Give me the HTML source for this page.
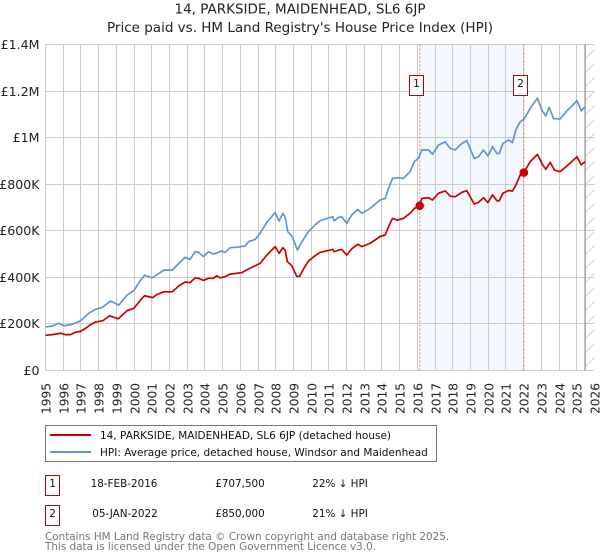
<!DOCTYPE html>
<html>
<head>
<meta charset="utf-8">
<style>
html,body{margin:0;padding:0;background:#fff;}
body{width:600px;height:560px;overflow:hidden;}
svg{display:block;font-family:"DejaVu Sans",sans-serif;}
</style>
</head>
<body>
<svg id="chart" width="600" height="560" viewBox="0 0 600 560" xmlns="http://www.w3.org/2000/svg">
<defs>
<pattern id="hatch" patternUnits="userSpaceOnUse" width="14" height="14">
<path d="M0 14 L14 0" stroke="#d4d4d4" stroke-width="1" fill="none"/>
</pattern>
</defs>
<text x="300" y="13.5" text-anchor="middle" font-size="13.5" fill="#222">14, PARKSIDE, MAIDENHEAD, SL6 6JP</text>
<text x="300" y="32" text-anchor="middle" font-size="13.5" fill="#222">Price paid vs. HM Land Registry's House Price Index (HPI)</text>
<g id="plot"></g>
<g>
<rect x="45.5" y="425.5" width="391" height="36" fill="#fff" stroke="#777" stroke-width="1"/>
<line x1="50" x2="91" y1="435" y2="435" stroke="#cc0000" stroke-width="2"/>
<text x="100" y="439" font-size="10.5" fill="#111">14, PARKSIDE, MAIDENHEAD, SL6 6JP (detached house)</text>
<line x1="50" x2="91" y1="452" y2="452" stroke="#6594d6" stroke-width="2"/>
<text x="100" y="456" font-size="10.5" fill="#111">HPI: Average price, detached house, Windsor and Maidenhead</text>
</g>
<g font-size="10.4" fill="#111">
<rect x="45.5" y="475.5" width="14" height="20" fill="#fff" stroke="#c00000" stroke-width="1"/>
<text x="52.5" y="487" text-anchor="middle">1</text>
<text x="124" y="487" text-anchor="middle">18-FEB-2016</text>
<text x="240" y="487" text-anchor="middle">£707,500</text>
<text x="340" y="487" text-anchor="middle">22% ↓ HPI</text>
<rect x="45.5" y="505.5" width="14" height="20" fill="#fff" stroke="#c00000" stroke-width="1"/>
<text x="52.5" y="517" text-anchor="middle">2</text>
<text x="125" y="517" text-anchor="middle">05-JAN-2022</text>
<text x="240" y="517" text-anchor="middle">£850,000</text>
<text x="340" y="517" text-anchor="middle">21% ↓ HPI</text>
</g>
<text x="45" y="540" font-size="10.4" fill="#777">Contains HM Land Registry data © Crown copyright and database right 2025.</text>
<text x="45" y="550" font-size="10.4" fill="#777">This data is licensed under the Open Government Licence v3.0.</text>
</svg>
<script>
var yearTicks = [1995,1996,1997,1998,1999,2000,2001,2002,2003,2004,2005,2006,2007,2008,2009,2010,2011,2012,2013,2014,2015,2016,2017,2018,2019,2020,2021,2022,2023,2024,2025,2026];
var valueTicks = [0,200,400,600,800,1000,1200,1400];
var valueTickLabels = ["£0","£200K","£400K","£600K","£800K","£1M","£1.2M","£1.4M"];
var hpiYears = [1995.00,1995.38,1995.75,1996.04,1996.51,1996.98,1997.45,1997.82,1998.20,1998.67,1999.14,1999.61,1999.99,2000.37,2000.59,2001.03,2001.40,2001.69,2002.16,2002.53,2002.88,2003.16,2003.45,2003.64,2003.92,2004.20,2004.48,2004.95,2005.14,2005.42,2005.90,2006.27,2006.46,2006.84,2007.12,2007.50,2007.97,2008.19,2008.40,2008.53,2008.68,2008.91,2009.23,2009.42,2009.85,2010.22,2010.50,2010.88,2011.22,2011.30,2011.54,2011.73,2012.01,2012.29,2012.63,2012.86,2013.33,2013.89,2014.18,2014.37,2014.59,2014.87,2015.21,2015.59,2015.82,2016.06,2016.25,2016.63,2016.85,2017.19,2017.57,2017.85,2018.13,2018.51,2018.79,2019.21,2019.45,2019.73,2019.98,2020.24,2020.49,2020.62,2020.83,2021.15,2021.37,2021.56,2021.80,2022.03,2022.37,2022.78,2023.03,2023.25,2023.44,2023.69,2024.06,2024.44,2024.72,2025.01,2025.25,2025.47];
var hpiValues = [187,191,203,192,198,214,246,263,271,298,281,324,343,388,409,398,417,431,431,460,486,477,510,508,489,510,500,513,507,527,530,535,553,563,589,637,678,642,675,660,596,578,517,546,596,625,643,653,660,642,658,660,632,668,692,675,696,732,739,782,825,828,825,854,897,911,947,947,929,968,982,954,947,975,987,911,918,947,921,961,932,932,975,990,979,1034,1068,1080,1126,1169,1118,1093,1130,1082,1080,1115,1135,1159,1115,1133];
var priceYears = [1995.00,1995.38,1995.85,1996.13,1996.41,1996.69,1996.98,1997.26,1997.54,1997.82,1998.24,1998.62,1999.11,1999.61,1999.99,2000.37,2000.59,2001.06,2001.31,2001.69,2002.16,2002.53,2002.88,2003.16,2003.45,2003.64,2003.92,2004.20,2004.48,2004.67,2004.86,2005.14,2005.42,2006.08,2006.46,2006.84,2007.12,2007.50,2007.97,2008.19,2008.40,2008.53,2008.66,2008.91,2009.19,2009.34,2009.57,2009.85,2010.22,2010.50,2010.88,2011.22,2011.30,2011.54,2011.73,2012.01,2012.29,2012.63,2012.86,2013.33,2013.89,2014.18,2014.37,2014.59,2014.87,2015.21,2015.59,2015.82,2016.13,2016.25,2016.63,2016.85,2017.19,2017.57,2017.85,2018.13,2018.51,2018.79,2019.21,2019.45,2019.73,2019.98,2020.24,2020.49,2020.62,2020.83,2021.15,2021.37,2021.56,2021.80,2022.01,2022.37,2022.78,2023.03,2023.25,2023.50,2023.73,2024.06,2024.44,2025.01,2025.25,2025.47];
var priceValues = [151,154,160,154,154,164,168,181,197,208,214,235,222,257,267,303,321,313,327,338,338,363,380,377,398,396,387,396,396,407,398,403,414,420,436,450,460,496,532,503,527,517,467,450,404,404,436,470,493,507,514,520,510,517,520,496,522,542,532,546,575,582,617,653,646,653,675,696,707.5,739,742,732,761,771,749,746,765,772,715,722,742,721,754,729,729,761,773,771,796,839,850,897,928,889,864,894,861,854,878,918,883,897];
var saleYears = [2016.13,2022.01];
var saleValues = [707.5,850];
var saleLabels = ["1","2"];

var NS = "http://www.w3.org/2000/svg";
var plot = document.getElementById("plot");
var left = 45.5, right = 594.5, top_ = 44.5, bottom = 370.5;
var yearMin = 1995, yearMax = 2026, valueMax = 1400;
function xScale(year){ return left + (year - yearMin) / (yearMax - yearMin) * (right - left); }
function yScale(value){ return bottom - value / valueMax * (bottom - top_); }
function add(tag, attrs, text){
  var el = document.createElementNS(NS, tag);
  for (var k in attrs) el.setAttribute(k, attrs[k]);
  if (text !== undefined) el.textContent = text;
  plot.appendChild(el);
  return el;
}
function snap(v){ return Math.round(v - 0.5) + 0.5; }

var shade = add("rect", {x: xScale(saleYears[0]), y: top_, width: xScale(saleYears[1]) - xScale(saleYears[0]), height: bottom - top_, fill: "#f3f7fe"});



var lastYear = hpiYears[hpiYears.length - 1];
var hatch = add("rect", {x: xScale(lastYear), y: top_, width: right - xScale(lastYear), height: bottom - top_, fill: "url(#hatch)"});



yearTicks.forEach(function(year){
  var x = snap(xScale(year));
  if (year < yearMax) {
    var g = add("line", {x1: x, x2: x, y1: top_, y2: bottom, stroke: "#ccc", "stroke-width": 1});
    
    
  }
  var t = add("text", {transform: "translate(" + (x + 4.8) + ",414) rotate(-90)", "font-size": 12.2, fill: "#222"}, String(year));
  
  
});
valueTicks.forEach(function(value, i){
  var y = snap(yScale(value));
  var g = add("line", {x1: left, x2: right, y1: y, y2: y, stroke: "#ccc", "stroke-width": 1});
  
  
  var t = add("text", {x: 39.5, y: y + 4.5, "text-anchor": "end", "font-size": 12.6, fill: "#222"}, valueTickLabels[i]);
  
  
});

var endLine = add("line", {x1: xScale(lastYear), x2: xScale(lastYear), y1: top_, y2: bottom, stroke: "#999", "stroke-width": 1.4});



saleYears.forEach(function(year){
  var x = xScale(year);
  var d = add("line", {x1: x, x2: x, y1: top_, y2: bottom, stroke: "#f77", "stroke-width": 1, "stroke-dasharray": "2 2"});
  
  
});

function pathFrom(xs, ys){
  return xs.map(function(yr, i){ return (i ? "L" : "M") + xScale(yr).toFixed(2) + " " + yScale(ys[i]).toFixed(2); }).join(" ");
}
var hpiLine = add("path", {d: pathFrom(hpiYears, hpiValues), fill: "none", stroke: "#6594d6", "stroke-width": 1.7, "stroke-linejoin": "round"});


var priceLine = add("path", {d: pathFrom(priceYears, priceValues), fill: "none", stroke: "#cc0000", "stroke-width": 1.7, "stroke-linejoin": "round"});



saleYears.forEach(function(year, i){
  var x = xScale(year);
  var c = add("circle", {cx: x, cy: yScale(saleValues[i]), r: 4.3, fill: "#cc0000"});
  
  
  var b = add("rect", {x: snap(x - 10), y: 75.5, width: 14, height: 20, fill: "#fff", stroke: "#c00000", "stroke-width": 1});
  
  
  var l = add("text", {x: snap(x - 10) + 7, y: 87, "text-anchor": "middle", "font-size": 11, fill: "#111"}, saleLabels[i]);
  
  
});
</script>
</body>
</html>
